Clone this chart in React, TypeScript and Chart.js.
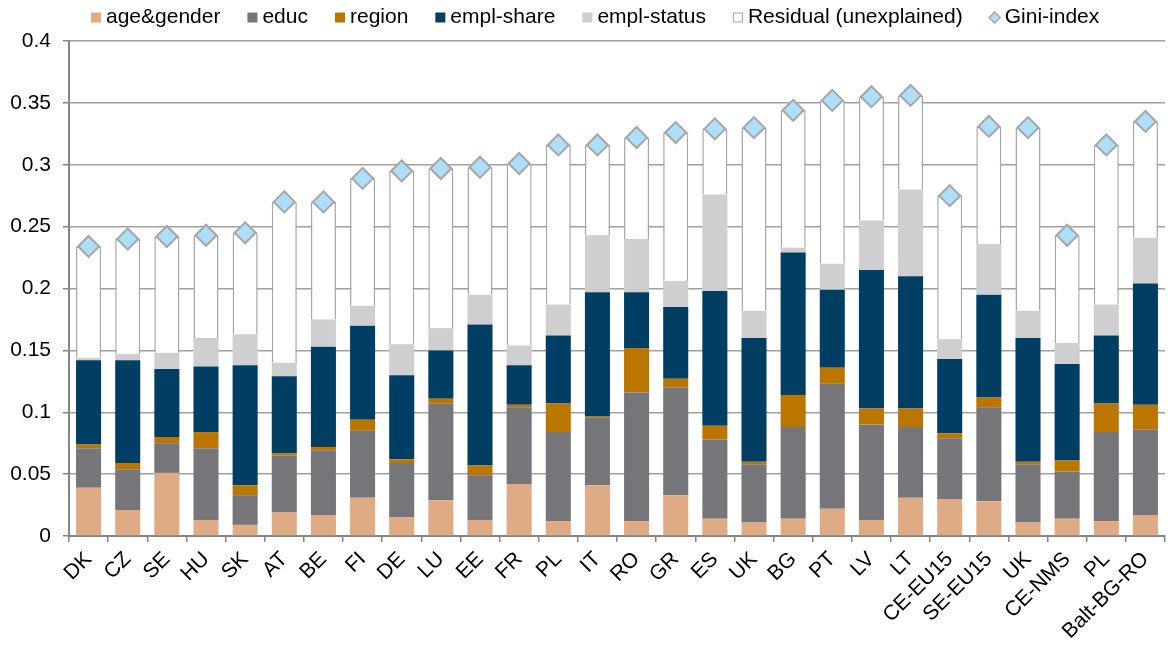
import React, { useEffect, useRef } from "react";
import { Chart, registerables } from "chart.js";

Chart.register(...registerables);

const categories = ["DK","CZ","SE","HU","SK","AT","BE","FI","DE","LU","EE","FR","PL","IT","RO","GR","ES","UK","BG","PT","LV","LT","CE-EU15","SE-EU15","UK","CE-NMS","PL","Balt-BG-RO"];

const ageGender = [0.039,0.021,0.051,0.013,0.009,0.019,0.017,0.031,0.015,0.029,0.013,0.042,0.012,0.041,0.012,0.033,0.014,0.011,0.014,0.022,0.013,0.031,0.030,0.028,0.011,0.014,0.012,0.017];
const educ = [0.032,0.033,0.024,0.058,0.024,0.046,0.052,0.054,0.044,0.078,0.036,0.062,0.072,0.055,0.104,0.087,0.064,0.047,0.074,0.101,0.077,0.057,0.049,0.076,0.047,0.038,0.072,0.069];
const region = [0.003,0.005,0.005,0.013,0.008,0.002,0.003,0.009,0.003,0.004,0.008,0.002,0.023,0.001,0.036,0.007,0.011,0.002,0.026,0.013,0.013,0.015,0.004,0.008,0.002,0.009,0.023,0.020];
const emplShare = [0.068,0.083,0.055,0.053,0.097,0.062,0.081,0.076,0.068,0.039,0.114,0.032,0.055,0.100,0.045,0.058,0.109,0.100,0.115,0.063,0.112,0.107,0.060,0.083,0.100,0.078,0.055,0.098];
const emplStatus = [0.002,0.005,0.013,0.023,0.025,0.011,0.022,0.016,0.025,0.018,0.024,0.016,0.025,0.046,0.043,0.021,0.078,0.022,0.004,0.021,0.040,0.070,0.016,0.041,0.022,0.017,0.025,0.037];
const residual = [0.090,0.093,0.094,0.083,0.082,0.130,0.095,0.103,0.140,0.129,0.103,0.147,0.129,0.073,0.082,0.120,0.053,0.148,0.111,0.132,0.100,0.076,0.116,0.095,0.148,0.087,0.129,0.094];
const gini = [0.234,0.240,0.242,0.243,0.245,0.270,0.270,0.289,0.295,0.297,0.298,0.301,0.316,0.316,0.322,0.326,0.329,0.330,0.344,0.352,0.355,0.356,0.275,0.331,0.330,0.243,0.316,0.335];

const yTicks = [0, 0.05, 0.1, 0.15, 0.2, 0.25, 0.3, 0.35, 0.4];

const FONT = "'Liberation Sans', Arial, sans-serif";
const AXIS = "#868686";
const GRID = "#A0A0A0";

const legendItems = [
  { label: "age&gender", fill: "#DFAB84", stroke: null, kind: "box" },
  { label: "educ", fill: "#767579", stroke: null, kind: "box" },
  { label: "region", fill: "#BB7600", stroke: null, kind: "box" },
  { label: "empl-share", fill: "#003F63", stroke: null, kind: "box" },
  { label: "empl-status", fill: "#CFCFD1", stroke: null, kind: "box" },
  { label: "Residual (unexplained)", fill: "#FFFFFF", stroke: "#A6A6A6", kind: "box" },
  { label: "Gini-index", fill: "#ADDFFA", stroke: "#A6A6A6", kind: "diamond" },
];

const legendPlugin = {
  id: "customLegend",
  afterDraw(chart: any) {
    const ctx = chart.ctx;
    ctx.save();
    ctx.font = `21px ${FONT}`;
    ctx.textBaseline = "alphabetic";
    ctx.textAlign = "left";
    let x = 91;
    const baseY = 22.5;
    for (const it of legendItems) {
      if (it.kind === "box") {
        ctx.fillStyle = it.fill;
        ctx.fillRect(x, 12.5, 10, 10);
        if (it.stroke) {
          ctx.strokeStyle = it.stroke;
          ctx.lineWidth = 1;
          ctx.strokeRect(x + 0.5, 13, 9, 9);
        }
      } else {
        const cx = x + 5, cy = 17.5, r = 5.5;
        ctx.beginPath();
        ctx.moveTo(cx - r, cy);
        ctx.lineTo(cx, cy - r);
        ctx.lineTo(cx + r, cy);
        ctx.lineTo(cx, cy + r);
        ctx.closePath();
        ctx.fillStyle = it.fill;
        ctx.fill();
        ctx.strokeStyle = it.stroke as string;
        ctx.lineWidth = 1.5;
        ctx.stroke();
      }
      ctx.fillStyle = "#000000";
      const tx = x + 15;
      ctx.fillText(it.label, tx, baseY);
      x = tx + ctx.measureText(it.label).width + 27;
    }
    ctx.restore();
  },
};

export default function App() {
  const ref = useRef<HTMLCanvasElement | null>(null);
  useEffect(() => {
    if (!ref.current) return;
    Chart.defaults.font.family = FONT;
    const mkBar = (label: string, data: number[], color: string, border?: string) => ({
      type: "bar" as const,
      label,
      data,
      backgroundColor: color,
      borderColor: border || color,
      borderWidth: border ? 1.5 : 0,
      stack: "s",
      order: 1,
      barPercentage: 0.64,
      categoryPercentage: 1,
    });
    const chart = new Chart(ref.current, {
      type: "bar",
      data: {
        labels: categories,
        datasets: [
          mkBar("age&gender", ageGender, "#DFAB84"),
          mkBar("educ", educ, "#767579"),
          mkBar("region", region, "#BB7600"),
          mkBar("empl-share", emplShare, "#003F63"),
          mkBar("empl-status", emplStatus, "#CFCFD1"),
          mkBar("Residual (unexplained)", residual, "#FFFFFF", "#A6A6A6"),
          {
            type: "line" as const,
            label: "Gini-index",
            data: gini,
            showLine: false,
            stack: "g",
            order: 0,
            clip: false,
            pointStyle: "rectRot",
            pointRadius: 10.5,
            pointHoverRadius: 10.5,
            pointBackgroundColor: "#ADDFFA",
            pointBorderColor: "#A6A6A6",
            pointBorderWidth: 2,
          } as any,
        ],
      },
      options: {
        animation: false,
        responsive: false,
        maintainAspectRatio: false,
        layout: { autoPadding: false, padding: { left: 10, right: 3, top: 41, bottom: 0 } },
        plugins: {
          legend: { display: false },
          tooltip: { enabled: false },
        },
        scales: {
          x: {
            stacked: true,
            offset: true,
            border: { color: AXIS, width: 2 },
            grid: {
              offset: true,
              drawOnChartArea: false,
              drawTicks: true,
              tickLength: 6,
              color: AXIS,
              lineWidth: 1.5,
            },
            ticks: {
              autoSkip: false,
              minRotation: 45,
              maxRotation: 45,
              padding: 5,
              color: "#000000",
              font: { size: 21, family: FONT },
            },
            afterFit: (axis: any) => {
              axis.height = 109;
              axis.paddingLeft = 0;
              axis.paddingRight = 0;
            },
          },
          y: {
            stacked: true,
            min: 0,
            max: 0.4,
            border: { color: AXIS, width: 2 },
            grid: {
              color: GRID,
              lineWidth: 1.5,
              drawTicks: true,
              tickLength: 6,
              tickColor: AXIS,
            },
            afterBuildTicks: (axis: any) => {
              axis.ticks = yTicks.map((v) => ({ value: v }));
            },
            ticks: {
              padding: 12,
              color: "#000000",
              font: { size: 21, family: FONT },
              callback: (v: any) => String(Math.round(Number(v) * 100) / 100),
            },
            afterFit: (axis: any) => {
              axis.width = 59;
              axis.paddingTop = 0;
              axis.paddingBottom = 0;
            },
          },
        },
      },
      plugins: [legendPlugin],
    } as any);
    return () => chart.destroy();
  }, []);
  return (
    <div style={{ position: "absolute", left: 0, top: 0, width: 1168, height: 645, background: "#fff" }}>
      <canvas ref={ref} width={1168} height={645} style={{ width: 1168, height: 645, display: "block" }} />
    </div>
  );
}
